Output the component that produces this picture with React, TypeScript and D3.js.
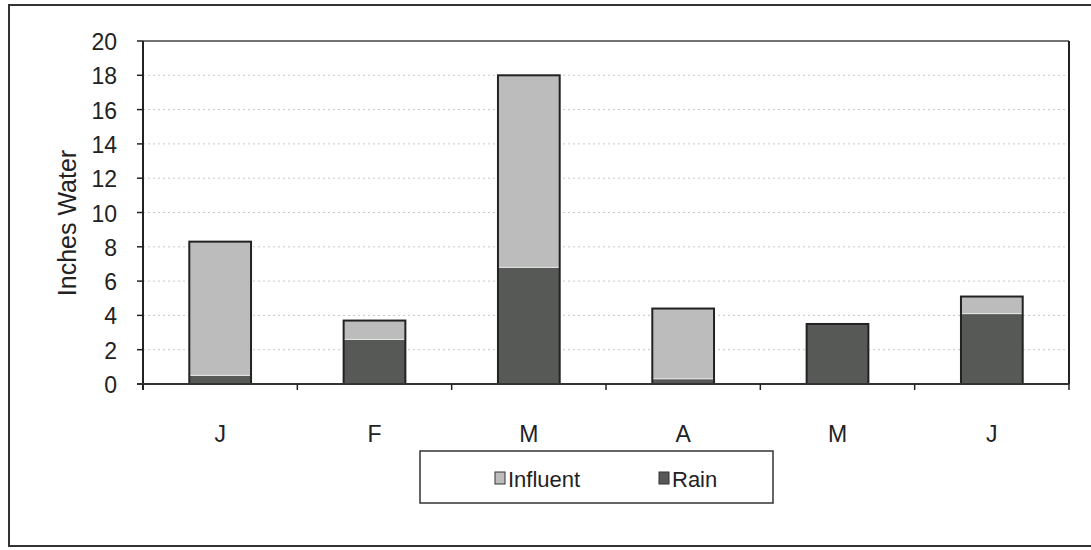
import React from "react";
import * as d3 from "d3";

const categories = ["J", "F", "M", "A", "M ", "J "];
const categoryLabels = ["J", "F", "M", "A", "M", "J"];
const rain = [0.5, 2.6, 6.8, 0.3, 3.5, 4.1];
const influent = [7.8, 1.1, 11.2, 4.1, 0, 1.0];
const yTicks = [0, 2, 4, 6, 8, 10, 12, 14, 16, 18, 20];
const seriesNames = ["Influent", "Rain"];

const W = 1091;
const H = 550;
const left = 143;
const right = 1069;
const top = 41;
const bottom = 384;
const font = "'Liberation Sans', Arial, sans-serif";
const influentColor = "#bcbcbc";
const rainColor = "#575957";

export default function App() {
  const x = d3
    .scaleBand<string>()
    .domain(categories)
    .range([left, right])
    .paddingInner(0.6)
    .paddingOuter(0.3);
  const y = d3.scaleLinear().domain([0, 20]).range([bottom, top]);
  const step = x.step();
  const boundaries = d3.range(categories.length + 1).map((i) => left + i * step);

  return (
    <svg
      width={W}
      height={H}
      style={{ position: "absolute", left: 0, top: 0, background: "#fff" }}
    >
      <rect x={0} y={0} width={W} height={H} fill="#fff" />
      {/* outer frame */}
      <rect x={9} y={5} width={1100} height={541} fill="none" stroke="#333" strokeWidth={2} />
      {/* gridlines */}
      {yTicks
        .filter((t) => t > 0 && t < 20)
        .map((t) => (
          <line
            key={"g" + t}
            x1={left}
            x2={right}
            y1={y(t)}
            y2={y(t)}
            stroke="#c8c8c8"
            strokeWidth={1}
            strokeDasharray="2,3"
          />
        ))}
      {/* plot top and right borders */}
      <line x1={left} x2={right} y1={top} y2={top} stroke="#444" strokeWidth={1.5} />
      <line x1={right} x2={right} y1={top} y2={bottom} stroke="#222" strokeWidth={2} />
      {/* bars */}
      {categories.map((c, i) => {
        const x0 = x(c)!;
        const bw = x.bandwidth();
        const r = rain[i];
        const t = rain[i] + influent[i];
        return (
          <g key={c}>
            <rect x={x0} y={y(r)} width={bw} height={y(0) - y(r)} fill={rainColor} />
            {influent[i] > 0 && (
              <rect x={x0} y={y(t)} width={bw} height={y(r) - y(t)} fill={influentColor} />
            )}
            {influent[i] > 0 && (
              <line x1={x0} x2={x0 + bw} y1={y(r)} y2={y(r)} stroke="#e8e8e8" strokeWidth={1} />
            )}
            <rect
              x={x0}
              y={y(t)}
              width={bw}
              height={y(0) - y(t)}
              fill="none"
              stroke="#222"
              strokeWidth={2}
            />
          </g>
        );
      })}
      {/* y axis */}
      <line x1={left} x2={left} y1={top} y2={bottom + 6} stroke="#222" strokeWidth={2} />
      {yTicks.map((t) => (
        <g key={"y" + t}>
          <line x1={left - 6} x2={left} y1={y(t)} y2={y(t)} stroke="#222" strokeWidth={1.5} />
          <text
            x={left - 26}
            y={y(t) + 1}
            textAnchor="end"
            dominantBaseline="central"
            fontFamily={font}
            fontSize={23}
            fill="#222"
          >
            {t}
          </text>
        </g>
      ))}
      {/* x axis */}
      <line x1={left - 6} x2={right} y1={bottom} y2={bottom} stroke="#333" strokeWidth={2} />
      {boundaries.map((bx, i) => (
        <line key={"xt" + i} x1={bx} x2={bx} y1={bottom} y2={bottom + 6} stroke="#222" strokeWidth={1.5} />
      ))}
      {categories.map((c, i) => (
        <text
          key={"xl" + i}
          x={x(c)! + x.bandwidth() / 2}
          y={434}
          textAnchor="middle"
          dominantBaseline="central"
          fontFamily={font}
          fontSize={23}
          fill="#222"
        >
          {categoryLabels[i]}
        </text>
      ))}
      {/* y axis title */}
      <text
        transform={`translate(67, 223) rotate(-90)`}
        textAnchor="middle"
        dominantBaseline="central"
        fontFamily={font}
        fontSize={25}
        fill="#222"
      >
        Inches Water
      </text>
      {/* legend */}
      <rect x={420} y={451} width={353} height={52} fill="#fff" stroke="#333" strokeWidth={1.5} />
      {seriesNames.map((s, i) => {
        const lx = i === 0 ? 495 : 659;
        return (
          <g key={s}>
            <rect
              x={lx}
              y={472}
              width={10}
              height={12}
              fill={i === 0 ? influentColor : rainColor}
              stroke="#333"
              strokeWidth={1}
            />
            <text
              x={lx + 13}
              y={479}
              dominantBaseline="central"
              fontFamily={font}
              fontSize={22}
              fill="#222"
            >
              {s}
            </text>
          </g>
        );
      })}
    </svg>
  );
}
